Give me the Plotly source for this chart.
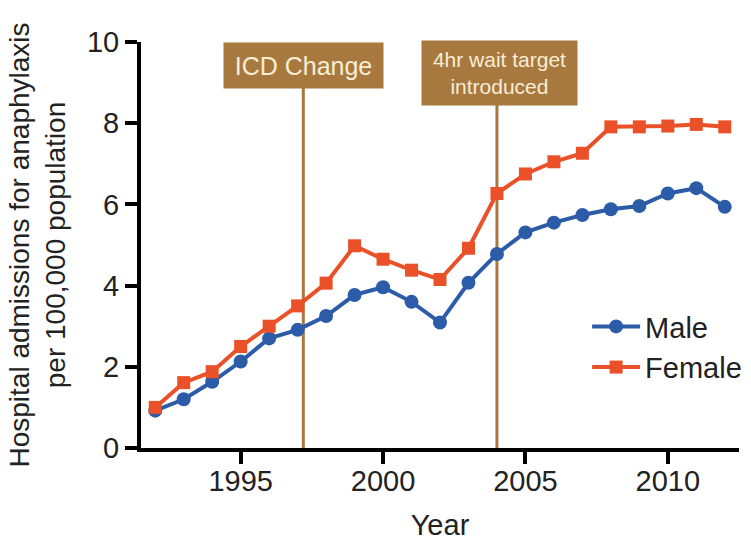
import plotly.graph_objects as go

years = list(range(1992, 2013))
male = [0.92, 1.20, 1.63, 2.13, 2.70, 2.91, 3.25, 3.77, 3.96, 3.60, 3.09,
        4.07, 4.78, 5.31, 5.55, 5.74, 5.88, 5.96, 6.27, 6.40, 5.94]
female = [1.00, 1.61, 1.88, 2.50, 3.00, 3.50, 4.06, 4.98, 4.65, 4.38, 4.15,
          4.92, 6.27, 6.75, 7.05, 7.26, 7.91, 7.91, 7.93, 7.97, 7.91]
event_years = [1997.2, 2004]
event_labels = ["ICD Change", "4hr wait target<br>introduced"]
x_ticks = [1995, 2000, 2005, 2010]
y_ticks = [0, 2, 4, 6, 8, 10]

BLUE = "#2C5CA8"
RED = "#EA5128"
BROWN = "#A8793F"
TXT = "#222222"
FONT = "Liberation Sans, Arial, sans-serif"

fig = go.Figure()
fig.add_trace(go.Scatter(x=years, y=male, name="Male", mode="lines+markers",
                         line=dict(color=BLUE, width=4),
                         marker=dict(symbol="circle", size=14, color=BLUE)))
fig.add_trace(go.Scatter(x=years, y=female, name="Female", mode="lines+markers",
                         line=dict(color=RED, width=4),
                         marker=dict(symbol="square", size=13, color=RED)))

for ey in event_years:
    fig.add_shape(type="line", xref="x", yref="paper", x0=ey, x1=ey, y0=0, y1=0.9,
                  line=dict(color=BROWN, width=3), layer="below")

box_specs = [dict(w=155, h=41, fs=25, xs=0, ys=0), dict(w=151, h=60, fs=21, xs=3, ys=2)]
for ey, lab, bs in zip(event_years, event_labels, box_specs):
    fig.add_annotation(x=ey, y=1, xref="x", yref="paper", text=lab,
                       showarrow=False, xanchor="center", yanchor="top",
                       width=bs["w"], height=bs["h"], borderpad=2,
                       xshift=bs["xs"], yshift=bs["ys"],
                       bgcolor=BROWN, font=dict(family=FONT, size=bs["fs"], color="#F7EDD5"))

fig.update_layout(
    width=751, height=541,
    margin=dict(l=141, r=4, t=42, b=93),
    paper_bgcolor="white", plot_bgcolor="white",
    font=dict(family=FONT, size=29, color=TXT),
    showlegend=True,
    legend=dict(x=0.746, y=0.362, xanchor="left", yanchor="top",
                bgcolor="rgba(0,0,0,0)", font=dict(size=29, color=TXT),
                itemwidth=48, tracegroupgap=0),
    xaxis=dict(range=[1991.5, 2012.5], tickvals=x_ticks, showgrid=False, zeroline=False,
               showline=True, linecolor="black", linewidth=4,
               ticks="outside", ticklen=12, tickwidth=4, tickcolor="black",
               ticklabelstandoff=-8, automargin=False,
               tickfont=dict(size=29, color=TXT),
               title=dict(text="Year", font=dict(size=29, color=TXT), standoff=24)),
    yaxis=dict(range=[0, 10], tickvals=y_ticks, showgrid=False, zeroline=False,
               showline=True, linecolor="black", linewidth=4,
               ticks="outside", ticklen=12, tickwidth=4, tickcolor="black",
               automargin=False,
               tickfont=dict(size=29, color=TXT),
               title=dict(text="Hospital admissions for anaphylaxis<br>per 100,000 population",
                          font=dict(size=28, color=TXT), standoff=14)),
)

fig.write_html("out.html", config={"displayModeBar": False},
               post_script="document.body.style.margin='0';document.body.style.padding='0';"
                           "document.documentElement.style.overflow='hidden';")
